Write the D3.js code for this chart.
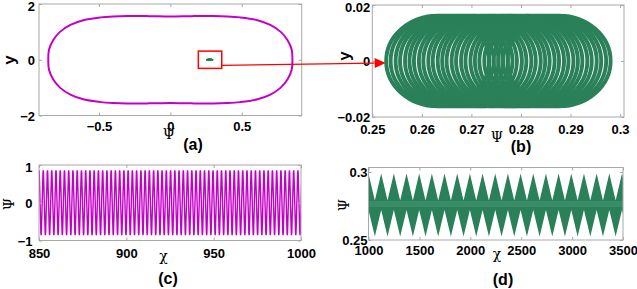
<!DOCTYPE html>
<html>
<head>
<meta charset="utf-8">
<script src="https://cdn.jsdelivr.net/npm/d3@7"></script>
<style>
  html, body { margin: 0; padding: 0; background: #fff; }
  svg { display: block; }
  .tick text { font-family: "Liberation Sans", Arial, sans-serif; font-weight: bold; font-size: 13px; fill: #000; }
  .tick line { stroke: #a8a8a8; }
</style>
</head>
<body>
<script>
// ---- data ----

// (a) upper half of the closed orbit in the (Psi, y) plane
var orbitPsi = [-0.855, -0.85, -0.82, -0.773, -0.70, -0.61, -0.49, -0.40, -0.30, -0.15, 0, 0.15, 0.30, 0.40, 0.49, 0.61, 0.70, 0.773, 0.82, 0.85, 0.855];
var orbitY   = [0, 0.36, 0.71, 1.0, 1.25, 1.42, 1.52, 1.555, 1.57, 1.565, 1.55, 1.565, 1.57, 1.555, 1.52, 1.42, 1.25, 1.0, 0.71, 0.36, 0];
// red zoom window in (a): psi from, psi to, y from, y to
var zoomBox = [0.196, 0.36, -0.31, 0.31];

// (b) centres of the loops of the quasi-periodic orbit, and loop half sizes
var bLoopCenters = [0.2632, 0.2641, 0.2651, 0.2660, 0.2670, 0.2679, 0.2688, 0.2698, 0.2707,
                    0.2717, 0.2726, 0.2736, 0.2745, 0.2754, 0.2764, 0.2773, 0.2783, 0.2792,
                    0.2802, 0.2811, 0.2820, 0.2830, 0.2839, 0.2849, 0.2858, 0.2868, 0.2877];
var bLoopHalfWidth = 0.0104;
var bLoopHalfHeight = 0.0162;

// (c) one oscillation period, repeated along chi
var cPeriod = 2.43;
var cCyclePhase = [0, 0.06, 0.44, 0.5, 0.56, 0.94, 1];
var cCycleValue = [0.86, 0.80, -0.80, -0.86, -0.80, 0.80, 0.86];

// (d) envelope of the filled band: slow half period and envelope levels
var dHalfPeriod = 62.25;
var dUpper = [0.2988, 0.2790];   // at crest, at trough
var dLower = [0.2720, 0.2525];

// tick values and labels
var aXTicks = [-0.5, 0, 0.5],            aXLabels = ["\u22120.5", "0", "0.5"];
var aYTicks = [-2, 0, 2],                aYLabels = ["\u22122", "0", "2"];
var bXTicks = [0.25, 0.26, 0.27, 0.28, 0.29, 0.3], bXLabels = ["0.25", "0.26", "0.27", "0.28", "0.29", "0.3"];
var bYTicks = [-0.02, 0, 0.02],          bYLabels = ["\u22120.02", "0", "0.02"];
var cXTicks = [850, 900, 950, 1000],     cXLabels = ["850", "900", "950", "1000"];
var cYTicks = [-1, 0, 1],                cYLabels = ["\u22121", "0", "1"];
var dXTicks = [1000, 1500, 2000, 2500, 3000, 3500], dXLabels = ["1000", "1500", "2000", "2500", "3000", "3500"];
var dYTicks = [0.25, 0.3],               dYLabels = ["0.25", "0.3"];

var magenta = "#c400c8", green = "#2a8058", frameGrey = "#a8a8a8";

var W = 637, H = 289;
var svg = d3.select("body").append("svg").attr("width", W).attr("height", H);

// builds one framed MATLAB-like axes box with inward ticks on all four sides
function makePanel(p) {
  var x = d3.scaleLinear().domain(p.xd).range([p.l, p.r]);
  var y = d3.scaleLinear().domain(p.yd).range([p.b, p.t]);
  var g = svg.append("g");
  var clipId = "clip" + p.id;
  svg.append("clipPath").attr("id", clipId).append("rect")
    .attr("x", p.l).attr("y", p.t).attr("width", p.r - p.l).attr("height", p.b - p.t);
  var plot = g.append("g").attr("clip-path", "url(#" + clipId + ")");

  function fmt(ticks, labels) { return function(d) { return labels[ticks.indexOf(d)]; }; }

  g.append("g").attr("transform", "translate(0," + p.b + ")")
    .call(d3.axisBottom(x).tickValues(p.xt).tickFormat(fmt(p.xt, p.xl)).tickSizeInner(-3).tickSizeOuter(0).tickPadding(p.xpad))
    .call(function(s) { s.select(".domain").remove(); });
  g.append("g").attr("transform", "translate(0," + p.t + ")")
    .call(d3.axisTop(x).tickValues(p.xt).tickFormat("").tickSizeInner(-3).tickSizeOuter(0))
    .call(function(s) { s.select(".domain").remove(); });
  g.append("g").attr("transform", "translate(" + p.l + ",0)")
    .call(d3.axisLeft(y).tickValues(p.yt).tickFormat(fmt(p.yt, p.yl)).tickSizeInner(-3).tickSizeOuter(0).tickPadding(p.ypad))
    .call(function(s) {
      s.select(".domain").remove();
      // the label sitting on the top edge is nudged down a little so it stays in the figure
      s.selectAll(".tick text").attr("dy", function(d) { return d === p.yd[1] ? "0.5em" : "0.36em"; });
    });
  g.append("g").attr("transform", "translate(" + p.r + ",0)")
    .call(d3.axisRight(y).tickValues(p.yt).tickFormat("").tickSizeInner(-3).tickSizeOuter(0))
    .call(function(s) { s.select(".domain").remove(); });
  g.selectAll(".tick text").attr("fill", "#000");

  g.append("rect").attr("x", p.l).attr("y", p.t).attr("width", p.r - p.l).attr("height", p.b - p.t)
    .attr("fill", "none").attr("stroke", frameGrey).attr("stroke-width", 1);

  return { x: x, y: y, g: g, plot: plot };
}

function serifLabel(txt, cx, cy, rotate) {
  var t = svg.append("text").text(txt)
    .attr("font-family", "'DejaVu Serif', 'Liberation Serif', serif")
    .attr("font-size", 14).attr("text-anchor", "middle");
  if (rotate) t.attr("transform", "translate(" + cx + "," + cy + ") rotate(-90)");
  else t.attr("x", cx).attr("y", cy);
  return t;
}
function boldLabel(txt, cx, cy, size, rotate) {
  var t = svg.append("text").text(txt)
    .attr("font-family", "'Liberation Sans', Arial, sans-serif")
    .attr("font-weight", "bold").attr("font-size", size).attr("text-anchor", "middle");
  if (rotate) t.attr("transform", "translate(" + cx + "," + cy + ") rotate(-90)");
  else t.attr("x", cx).attr("y", cy);
  return t;
}

// ---------- panel (a) ----------
var A = makePanel({ id: "a", l: 39, r: 301.7, t: 4, b: 115.5, xd: [-0.92, 0.92], yd: [-2, 2],
  xt: aXTicks, xl: aXLabels, yt: aYTicks, yl: aYLabels, xpad: 6, ypad: 4 });

var orbit = orbitPsi.map(function(p, i) { return [p, orbitY[i]]; });
var lowerHalf = orbit.slice(1, -1).reverse().map(function(d) { return [d[0], -d[1]]; });
var loop = orbit.concat(lowerHalf);

A.plot.append("path")
  .datum(loop)
  .attr("d", d3.line().x(function(d) { return A.x(d[0]); }).y(function(d) { return A.y(d[1]); })
    .curve(d3.curveCatmullRomClosed.alpha(0.5)))
  .attr("fill", "none").attr("stroke", magenta).attr("stroke-width", 2);

// tiny copy of the (b) orbit inside the zoom window
A.plot.selectAll(".mini").data(bLoopCenters).enter().append("ellipse")
  .attr("cx", function(d) { return A.x(d); })
  .attr("cy", A.y(0))
  .attr("rx", function(d) { return A.x(d + bLoopHalfWidth) - A.x(d); })
  .attr("ry", A.y(0) - A.y(bLoopHalfHeight))
  .attr("fill", "none").attr("stroke", green).attr("stroke-width", 1.2);

A.g.append("rect")
  .attr("x", A.x(zoomBox[0])).attr("y", A.y(zoomBox[3]))
  .attr("width", A.x(zoomBox[1]) - A.x(zoomBox[0]))
  .attr("height", A.y(zoomBox[2]) - A.y(zoomBox[3]))
  .attr("fill", "none").attr("stroke", "#ff0000").attr("stroke-width", 1.5);

boldLabel("y", 15, 60, 17, true);
serifLabel("\u03A8", 169, 139, false);
boldLabel("(a)", 193, 150, 16, false);

// ---------- panel (b) ----------
var B = makePanel({ id: "b", l: 372.3, r: 624, t: 5, b: 117, xd: [0.25, 0.3008], yd: [-0.02, 0.02],
  xt: bXTicks, xl: bXLabels, yt: bYTicks, yl: bYLabels, xpad: 8, ypad: 2 });

B.plot.selectAll(".loop").data(bLoopCenters).enter().append("ellipse")
  .attr("class", "loop")
  .attr("cx", function(d) { return B.x(d); })
  .attr("cy", B.y(0))
  .attr("rx", function(d) { return B.x(d + bLoopHalfWidth) - B.x(d); })
  .attr("ry", B.y(0) - B.y(bLoopHalfHeight))
  .attr("fill", "none").attr("stroke", green).attr("stroke-width", 3.9);

boldLabel("y", 350, 56, 17, true);
serifLabel("\u03A8", 497, 142, false);
boldLabel("(b)", 521, 152, 16, false);

// red arrow from the zoom window in (a) to the enlarged orbit in (b)
var arrowStart = [A.x(zoomBox[1]), A.y(-0.2)];
var arrowEnd = [B.x(0.2527), B.y(-0.0007)];
var ang = Math.atan2(arrowEnd[1] - arrowStart[1], arrowEnd[0] - arrowStart[0]);
var headLen = 11, headHalf = 5;
var base = [arrowEnd[0] - headLen * Math.cos(ang), arrowEnd[1] - headLen * Math.sin(ang)];
svg.append("line")
  .attr("x1", arrowStart[0]).attr("y1", arrowStart[1]).attr("x2", base[0]).attr("y2", base[1])
  .attr("stroke", "#ff0000").attr("stroke-width", 1.4);
svg.append("path")
  .attr("d", "M" + arrowEnd[0] + "," + arrowEnd[1] +
    "L" + (base[0] + headHalf * Math.sin(ang)) + "," + (base[1] - headHalf * Math.cos(ang)) +
    "L" + (base[0] - headHalf * Math.sin(ang)) + "," + (base[1] + headHalf * Math.cos(ang)) + "Z")
  .attr("fill", "#ff0000");

// ---------- panel (c) ----------
var C = makePanel({ id: "c", l: 39, r: 301, t: 165, b: 240.5, xd: [850, 1000], yd: [-1, 1],
  xt: cXTicks, xl: cXLabels, yt: cYTicks, yl: cYLabels, xpad: 8, ypad: 6.5 });

var cSeries = [];
for (var k = 0; 850 + k * cPeriod <= 1000 + cPeriod; k++) {
  cCyclePhase.forEach(function(ph, j) {
    if (k > 0 && j === 0) return;
    cSeries.push([850 + (k + ph) * cPeriod, cCycleValue[j]]);
  });
}
C.plot.append("path")
  .datum(cSeries)
  .attr("d", d3.line().x(function(d) { return C.x(d[0]); }).y(function(d) { return C.y(d[1]); }))
  .attr("fill", "none").attr("stroke", magenta).attr("stroke-width", 1.4);

serifLabel("\u03A8", 14, 204, true);
serifLabel("\u03C7", 163.5, 261, false);
boldLabel("(c)", 168, 283.5, 16, false);

// ---------- panel (d) ----------
var D = makePanel({ id: "d", l: 368.5, r: 623, t: 167.5, b: 240, xd: [1000, 3500], yd: [0.25, 0.3033],
  xt: dXTicks, xl: dXLabels, yt: dYTicks, yl: dYLabels, xpad: 6, ypad: 1 });

var band = [];
for (var n = 0; 1000 + n * dHalfPeriod <= 3500 + dHalfPeriod; n++) {
  band.push({ chi: 1000 + n * dHalfPeriod, hi: dUpper[n % 2], lo: dLower[n % 2] });
}
var bandArea = d3.area()
  .x(function(d) { return D.x(d.chi); })
  .y0(function(d) { return D.y(d.lo); })
  .y1(function(d) { return D.y(d.hi); });

svg.append("clipPath").attr("id", "bandClip").append("path").attr("d", bandArea(band));
D.plot.append("path").attr("d", bandArea(band)).attr("fill", green);
// lighter stripe where the fast oscillation crosses the middle of the band
D.plot.append("g").attr("clip-path", "url(#bandClip)")
  .append("line")
  .attr("x1", D.x(1000)).attr("x2", D.x(3500))
  .attr("y1", D.y(0.2765)).attr("y2", D.y(0.2765))
  .attr("stroke", "#5ea883").attr("stroke-width", 6).attr("stroke-opacity", 0.3);

serifLabel("\u03A8", 349, 205, true);
serifLabel("\u03C7", 497, 259, false);
boldLabel("(d)", 503, 284.5, 16, false);
</script>
</body>
</html>
